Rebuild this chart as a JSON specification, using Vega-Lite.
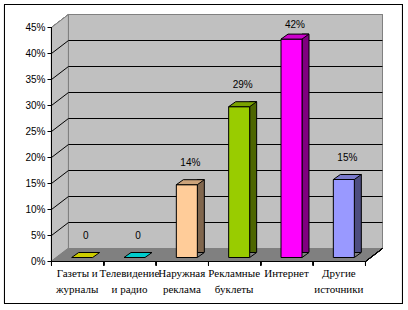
{
  "$schema": "https://vega.github.io/schema/vega-lite/v6.json",
  "width": 314,
  "height": 234,
  "autosize": "none",
  "padding": {"left": 51, "top": 27, "right": 43, "bottom": 49},
  "background": "white",
  "config": {"view": {"stroke": null}, "font": "Liberation Sans"},
  "data": {"values": [
    {"source": "Газеты и журналы", "share": 0},
    {"source": "Телевидение и радио", "share": 0},
    {"source": "Наружная реклама", "share": 0.14},
    {"source": "Рекламные буклеты", "share": 0.29},
    {"source": "Интернет", "share": 0.42},
    {"source": "Другие источники", "share": 0.15}
  ]},
  "layer": [
    {
      "mark": {"type": "point", "shape": "M-25.67,0 L-25.67,-233.5 L-8.67,-246.5 L-8.67,-13 Z", "size": 4, "filled": true, "fill": "#c0c0c0", "stroke": "#808080", "strokeWidth": 1, "opacity": 1},
      "encoding": {
        "x": {"datum": "Газеты и журналы", "type": "nominal", "scale": {"domain": ["Газеты и журналы", "Телевидение и радио", "Наружная реклама", "Рекламные буклеты", "Интернет", "Другие источники"], "paddingInner": 0, "paddingOuter": 0}, "axis": null},
        "y": {"datum": 0, "type": "quantitative", "scale": {"domain": [0, 0.45], "nice": false}, "axis": null}
      }
    },
    {
      "mark": {"type": "point", "shape": "M-8.67,-12.5 L305.33,-12.5 L305.33,-246.5 L-8.67,-246.5 Z", "size": 4, "filled": true, "fill": "#c0c0c0", "stroke": "#808080", "strokeWidth": 1, "opacity": 1},
      "encoding": {
        "x": {"datum": "Газеты и журналы", "type": "nominal", "scale": {"domain": ["Газеты и журналы", "Телевидение и радио", "Наружная реклама", "Рекламные буклеты", "Интернет", "Другие источники"], "paddingInner": 0, "paddingOuter": 0}, "axis": null},
        "y": {"datum": 0, "type": "quantitative", "scale": {"domain": [0, 0.45], "nice": false}, "axis": null}
      }
    },
    {
      "mark": {"type": "point", "shape": "M-25.67,0.5 L288.33,0.5 L305.33,-12.5 L-8.67,-12.5 Z", "size": 4, "filled": true, "fill": "#808080", "strokeWidth": 0, "opacity": 1},
      "encoding": {
        "x": {"datum": "Газеты и журналы", "type": "nominal", "scale": {"domain": ["Газеты и журналы", "Телевидение и радио", "Наружная реклама", "Рекламные буклеты", "Интернет", "Другие источники"], "paddingInner": 0, "paddingOuter": 0}, "axis": null},
        "y": {"datum": 0, "type": "quantitative", "scale": {"domain": [0, 0.45], "nice": false}, "axis": null}
      }
    },
    {
      "mark": {"type": "point", "shape": "M288.33,0.5 L305.33,-12.5 M-25.67,0.5 L288.33,0.5 M-25.67,0.5 L-25.67,-233.5 M-25.67,0.5 L-25.67,4.5 M26.67,0.5 L26.67,4.5 M79,0.5 L79,4.5 M131.33,0.5 L131.33,4.5 M183.67,0.5 L183.67,4.5 M236,0.5 L236,4.5 M288.33,0.5 L288.33,4.5", "size": 4, "filled": false, "stroke": "black", "strokeWidth": 1, "opacity": 1},
      "encoding": {
        "x": {"datum": "Газеты и журналы", "type": "nominal", "scale": {"domain": ["Газеты и журналы", "Телевидение и радио", "Наружная реклама", "Рекламные буклеты", "Интернет", "Другие источники"], "paddingInner": 0, "paddingOuter": 0}, "axis": null},
        "y": {"datum": 0, "type": "quantitative", "scale": {"domain": [0, 0.45], "nice": false}, "axis": null}
      }
    },
    {
      "data": {"values": [{"v": 0.05}, {"v": 0.1}, {"v": 0.15}, {"v": 0.2}, {"v": 0.25}, {"v": 0.3}, {"v": 0.35}, {"v": 0.4}]},
      "mark": {"type": "point", "shape": "M-25.67,0.5 L-8.67,-12.5 L305.33,-12.5", "size": 4, "filled": false, "stroke": "black", "strokeWidth": 1, "opacity": 1},
      "encoding": {
        "x": {"datum": "Газеты и журналы", "type": "nominal", "scale": {"domain": ["Газеты и журналы", "Телевидение и радио", "Наружная реклама", "Рекламные буклеты", "Интернет", "Другие источники"], "paddingInner": 0, "paddingOuter": 0}, "axis": null},
        "y": {"field": "v", "type": "quantitative", "scale": {"domain": [0, 0.45], "nice": false}, "axis": null}
      }
    },
    {
      "data": {"values": [{"v": 0}, {"v": 0.05}, {"v": 0.1}, {"v": 0.15}, {"v": 0.2}, {"v": 0.25}, {"v": 0.3}, {"v": 0.35}, {"v": 0.4}, {"v": 0.45}]},
      "mark": {"type": "point", "shape": "M-29.67,0.5 L-25.67,0.5", "size": 4, "filled": false, "stroke": "black", "strokeWidth": 1, "opacity": 1},
      "encoding": {
        "x": {"datum": "Газеты и журналы", "type": "nominal", "scale": {"domain": ["Газеты и журналы", "Телевидение и радио", "Наружная реклама", "Рекламные буклеты", "Интернет", "Другие источники"], "paddingInner": 0, "paddingOuter": 0}, "axis": null},
        "y": {"field": "v", "type": "quantitative", "scale": {"domain": [0, 0.45], "nice": false}, "axis": null}
      }
    },
    {
      "data": {"values": [{"v": 0}, {"v": 0.05}, {"v": 0.1}, {"v": 0.15}, {"v": 0.2}, {"v": 0.25}, {"v": 0.3}, {"v": 0.35}, {"v": 0.4}, {"v": 0.45}]},
      "transform": [{"calculate": "format(datum.v, '.0%')", "as": "lab"}],
      "mark": {"type": "text", "xOffset": -31.67, "yOffset": 0.5, "align": "right", "baseline": "middle", "font": "Liberation Sans", "fontSize": 10, "color": "black"},
      "encoding": {
        "x": {"datum": "Газеты и журналы", "type": "nominal", "scale": {"domain": ["Газеты и журналы", "Телевидение и радио", "Наружная реклама", "Рекламные буклеты", "Интернет", "Другие источники"], "paddingInner": 0, "paddingOuter": 0}, "axis": null},
        "y": {"field": "v", "type": "quantitative", "scale": {"domain": [0, 0.45], "nice": false}, "axis": null},
        "text": {"field": "lab"}
      }
    },
    {
      "transform": [{"filter": "datum.share > 0"}],
      "mark": {"type": "bar", "width": 7, "xOffset": 19, "yOffset": -8.5, "y2Offset": -3.5, "stroke": "black", "strokeWidth": 1},
      "encoding": {
        "x": {"field": "source", "type": "nominal", "scale": {"domain": ["Газеты и журналы", "Телевидение и радио", "Наружная реклама", "Рекламные буклеты", "Интернет", "Другие источники"], "paddingInner": 0, "paddingOuter": 0}, "axis": null},
        "y": {"field": "share", "type": "quantitative", "scale": {"domain": [0, 0.45], "nice": false}, "axis": null},
        "fill": {"field": "source", "type": "nominal", "scale": {"domain": ["Газеты и журналы", "Телевидение и радио", "Наружная реклама", "Рекламные буклеты", "Интернет", "Другие источники"], "range": ["#808000", "#008080", "#80664d", "#4d6600", "#800080", "#4d4d80"]}, "legend": null}
      }
    },
    {
      "transform": [{"filter": "datum.share > 0"}],
      "mark": {"type": "point", "shape": "M15.5,-3.5 L22.5,-8.5 L23.5,-8.5 L23.5,-3 L15.5,-3 Z", "size": 4, "filled": true, "fill": "#808080", "strokeWidth": 0, "opacity": 1},
      "encoding": {
        "x": {"field": "source", "type": "nominal", "scale": {"domain": ["Газеты и журналы", "Телевидение и радио", "Наружная реклама", "Рекламные буклеты", "Интернет", "Другие источники"], "paddingInner": 0, "paddingOuter": 0}, "axis": null},
        "y": {"datum": 0, "type": "quantitative", "scale": {"domain": [0, 0.45], "nice": false}, "axis": null}
      }
    },
    {
      "transform": [{"filter": "datum.share > 0"}],
      "mark": {"type": "point", "shape": "M15.5,-3.5 L22.5,-8.5", "size": 4, "filled": false, "stroke": "black", "strokeWidth": 1, "opacity": 1},
      "encoding": {
        "x": {"field": "source", "type": "nominal", "scale": {"domain": ["Газеты и журналы", "Телевидение и радио", "Наружная реклама", "Рекламные буклеты", "Интернет", "Другие источники"], "paddingInner": 0, "paddingOuter": 0}, "axis": null},
        "y": {"datum": 0, "type": "quantitative", "scale": {"domain": [0, 0.45], "nice": false}, "axis": null}
      }
    },
    {
      "transform": [{"filter": "datum.share > 0"}],
      "mark": {"type": "bar", "width": 21, "xOffset": 5, "yOffset": -3.5, "y2Offset": -3.5, "stroke": "black", "strokeWidth": 1},
      "encoding": {
        "x": {"field": "source", "type": "nominal", "scale": {"domain": ["Газеты и журналы", "Телевидение и радио", "Наружная реклама", "Рекламные буклеты", "Интернет", "Другие источники"], "paddingInner": 0, "paddingOuter": 0}, "axis": null},
        "y": {"field": "share", "type": "quantitative", "scale": {"domain": [0, 0.45], "nice": false}, "axis": null},
        "fill": {"field": "source", "type": "nominal", "scale": {"domain": ["Газеты и журналы", "Телевидение и радио", "Наружная реклама", "Рекламные буклеты", "Интернет", "Другие источники"], "range": ["#ffff00", "#00ffff", "#ffcc99", "#99cc00", "#ff00ff", "#9999ff"]}, "legend": null}
      }
    },
    {
      "mark": {"type": "point", "shape": "M-5.5,-3.5 L15.5,-3.5 L22.5,-8.5 L1.5,-8.5 Z", "size": 4, "filled": true, "stroke": "black", "strokeWidth": 1, "opacity": 1},
      "encoding": {
        "x": {"field": "source", "type": "nominal", "scale": {"domain": ["Газеты и журналы", "Телевидение и радио", "Наружная реклама", "Рекламные буклеты", "Интернет", "Другие источники"], "paddingInner": 0, "paddingOuter": 0}, "axis": null},
        "y": {"field": "share", "type": "quantitative", "scale": {"domain": [0, 0.45], "nice": false}, "axis": null},
        "fill": {"field": "source", "type": "nominal", "scale": {"domain": ["Газеты и журналы", "Телевидение и радио", "Наружная реклама", "Рекламные буклеты", "Интернет", "Другие источники"], "range": ["#cccc00", "#00cccc", "#cca37a", "#7aa300", "#cc00cc", "#7a7acc"]}, "legend": null}
      }
    },
    {
      "transform": [{"calculate": "datum.share == 0 ? '0' : format(datum.share, '.0%')", "as": "label"}],
      "mark": {"type": "text", "xOffset": 8.5, "yOffset": {"expr": "max(-25, -2 - scale('y', datum.share))"}, "baseline": "middle", "align": "center", "font": "Liberation Sans", "fontSize": 10, "color": "black"},
      "encoding": {
        "x": {"field": "source", "type": "nominal", "scale": {"domain": ["Газеты и журналы", "Телевидение и радио", "Наружная реклама", "Рекламные буклеты", "Интернет", "Другие источники"], "paddingInner": 0, "paddingOuter": 0}, "axis": null},
        "y": {"field": "share", "type": "quantitative", "scale": {"domain": [0, 0.45], "nice": false}, "axis": null},
        "text": {"field": "label"}
      }
    },
    {
      "transform": [{"calculate": "datum.source == 'Телевидение и радио' ? 'Телевидение' : (indexof(datum.source, ' ') < 0 ? datum.source : substring(datum.source, 0, lastindexof(datum.source, ' ')))", "as": "line1"}],
      "mark": {"type": "text", "yOffset": 13, "baseline": "middle", "align": "center", "font": "Liberation Serif", "fontSize": 11, "color": "black"},
      "encoding": {
        "x": {"field": "source", "type": "nominal", "scale": {"domain": ["Газеты и журналы", "Телевидение и радио", "Наружная реклама", "Рекламные буклеты", "Интернет", "Другие источники"], "paddingInner": 0, "paddingOuter": 0}, "axis": null},
        "y": {"datum": 0, "type": "quantitative", "scale": {"domain": [0, 0.45], "nice": false}, "axis": null},
        "text": {"field": "line1"}
      }
    },
    {
      "transform": [{"calculate": "datum.source == 'Телевидение и радио' ? 'и радио' : (indexof(datum.source, ' ') < 0 ? '' : substring(datum.source, lastindexof(datum.source, ' ') + 1))", "as": "line2"}],
      "mark": {"type": "text", "yOffset": 29, "baseline": "middle", "align": "center", "font": "Liberation Serif", "fontSize": 11, "color": "black"},
      "encoding": {
        "x": {"field": "source", "type": "nominal", "scale": {"domain": ["Газеты и журналы", "Телевидение и радио", "Наружная реклама", "Рекламные буклеты", "Интернет", "Другие источники"], "paddingInner": 0, "paddingOuter": 0}, "axis": null},
        "y": {"datum": 0, "type": "quantitative", "scale": {"domain": [0, 0.45], "nice": false}, "axis": null},
        "text": {"field": "line2"}
      }
    },
    {
      "mark": {"type": "point", "shape": "M-72.67,-256.5 L325.33,-256.5 L325.33,42.5 L-72.67,42.5 Z", "size": 4, "filled": false, "stroke": "black", "strokeWidth": 1, "opacity": 1},
      "encoding": {
        "x": {"datum": "Газеты и журналы", "type": "nominal", "scale": {"domain": ["Газеты и журналы", "Телевидение и радио", "Наружная реклама", "Рекламные буклеты", "Интернет", "Другие источники"], "paddingInner": 0, "paddingOuter": 0}, "axis": null},
        "y": {"datum": 0, "type": "quantitative", "scale": {"domain": [0, 0.45], "nice": false}, "axis": null}
      }
    }
  ],
  "resolve": {"scale": {"fill": "independent"}}
}
